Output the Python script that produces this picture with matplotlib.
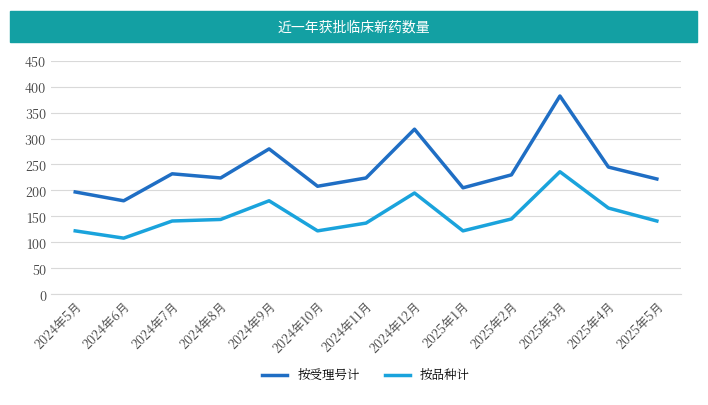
import matplotlib.pyplot as plt
from matplotlib.patches import Rectangle

plt.rcParams['font.family'] = 'Noto Serif CJK JP'

months = ["2024年5月", "2024年6月", "2024年7月", "2024年8月", "2024年9月", "2024年10月",
          "2024年11月", "2024年12月", "2025年1月", "2025年2月", "2025年3月", "2025年4月", "2025年5月"]
by_accept = [197, 180, 232, 224, 280, 208, 224, 318, 205, 230, 382, 245, 222]
by_variety = [122, 108, 141, 144, 180, 122, 137, 195, 122, 145, 236, 166, 141]

fig = plt.figure(figsize=(7.08, 4.06), dpi=100)
fig.patches.append(Rectangle((0.014, 0.895), 0.97, 0.075, transform=fig.transFigure,
                             color="#13a0a3", zorder=0))
fig.text(0.5, 0.932, "近一年获批临床新药数量", color="white", ha="center", va="center",
         fontsize=10, fontfamily="Noto Sans CJK JP")

ax = fig.add_axes([0.072, 0.273, 0.89, 0.575])
x = range(len(months))
ax.plot(x, by_accept, color="#1f6ec4", lw=2.5, label="按受理号计")
ax.plot(x, by_variety, color="#1aa3dc", lw=2.5, label="按品种计")
ax.set_ylim(0, 450)
ax.set_yticks(range(0, 451, 50))
ax.set_xlim(-0.5, len(months) - 0.5)
ax.set_xticks(list(x))
ax.set_xticklabels(months, rotation=45, ha="right", rotation_mode="anchor", fontsize=9)
ax.tick_params(axis="y", labelsize=9, length=0, labelcolor="#404040")
ax.tick_params(axis="x", length=0, labelcolor="#404040")
ax.grid(axis="y", color="#d9d9d9", lw=0.8)
ax.set_axisbelow(True)
for s in ["top", "right", "left"]:
    ax.spines[s].set_visible(False)
ax.spines["bottom"].set_color("#d9d9d9")
ax.legend(loc="upper center", bbox_to_anchor=(0.5, -0.27), ncol=2, frameon=False, fontsize=9)

fig.savefig("out.png")
